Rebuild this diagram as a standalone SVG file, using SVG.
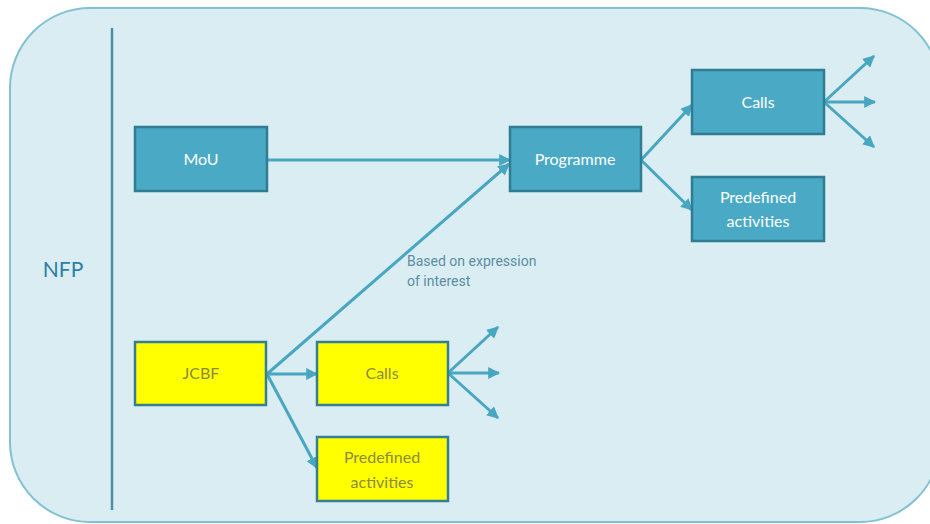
<svg xmlns="http://www.w3.org/2000/svg" width="930" height="524" viewBox="0 0 930 524">
<defs>
<marker id="ah" viewBox="0 0 10 10" refX="9" refY="5" markerWidth="4" markerHeight="4" orient="auto" markerUnits="strokeWidth">
<path d="M0,0 L10,5 L0,10 z" fill="#48a6c0"/>
</marker>
<style>
.bg{fill:#daedf3;stroke:#82c1d2;stroke-width:2}
.blue{fill:#4aaac5;stroke:#2f7c93;stroke-width:2.5}
.yel{fill:#ffff00;stroke:#357f95;stroke-width:2.5}
.tw{font-family:Lato,"Open Sans",sans-serif;font-size:16px;fill:#ffffff;text-anchor:middle}
.ty{font-family:Lato,"Open Sans",sans-serif;font-size:16px;fill:#8b8a3e;text-anchor:middle}
.conn line{stroke:#48a6c0;stroke-width:3;fill:none}
.conn line.a{marker-end:url(#ah)}
.lbl{font-family:Roboto,"Liberation Sans",sans-serif;font-size:14px;fill:#5b8ea3}
</style>
</defs>
<rect width="930" height="524" fill="#ffffff"/>
<rect class="bg" x="10" y="8" width="930" height="514" rx="80" ry="80"/>
<line x1="112" y1="28" x2="112" y2="510" stroke="#4d8fa8" stroke-width="2.5"/>
<text x="63" y="277" font-family="Lato,'Open Sans',sans-serif" font-size="21" fill="#2f7fa3" text-anchor="middle">NFP</text>
<g class="conn">
<line class="a" x1="267" y1="160" x2="510" y2="160"/>
<line class="a" x1="267" y1="374" x2="509" y2="164"/>
<line class="a" x1="641" y1="160" x2="692" y2="105"/>
<line class="a" x1="641" y1="160" x2="692" y2="210"/>
<line class="a" x1="824" y1="102" x2="874" y2="56"/>
<line class="a" x1="824" y1="102" x2="875" y2="102"/>
<line class="a" x1="824" y1="102" x2="874" y2="147"/>
<line class="a" x1="267" y1="374" x2="317" y2="374"/>
<line class="a" x1="267" y1="374" x2="317" y2="468"/>
<line class="a" x1="448" y1="373" x2="498" y2="327"/>
<line class="a" x1="448" y1="373" x2="499" y2="373"/>
<line class="a" x1="448" y1="373" x2="498" y2="418"/>
</g>
<text class="lbl" x="407" y="266">Based on expression</text>
<text class="lbl" x="407" y="286">of interest</text>
<g id="mou"><rect class="blue" x="135" y="127" width="132" height="64"/><text class="tw" x="201" y="165">MoU</text></g>
<g id="programme"><rect class="blue" x="510" y="127" width="131" height="64"/><text class="tw" x="575" y="165">Programme</text></g>
<g id="calls1"><rect class="blue" x="692" y="70" width="132" height="64"/><text class="tw" x="758" y="108">Calls</text></g>
<g id="predef1"><rect class="blue" x="692" y="177" width="132" height="64"/><text class="tw" x="758" y="203">Predefined</text><text class="tw" x="758" y="227">activities</text></g>
<g id="jcbf"><rect class="yel" x="135" y="342" width="131" height="63"/><text class="ty" x="201" y="379">JCBF</text></g>
<g id="calls2"><rect class="yel" x="317" y="342" width="131" height="63"/><text class="ty" x="382" y="379">Calls</text></g>
<g id="predef2"><rect class="yel" x="317" y="437" width="131" height="64"/><text class="ty" x="382" y="463">Predefined</text><text class="ty" x="382" y="488">activities</text></g>
</svg>
